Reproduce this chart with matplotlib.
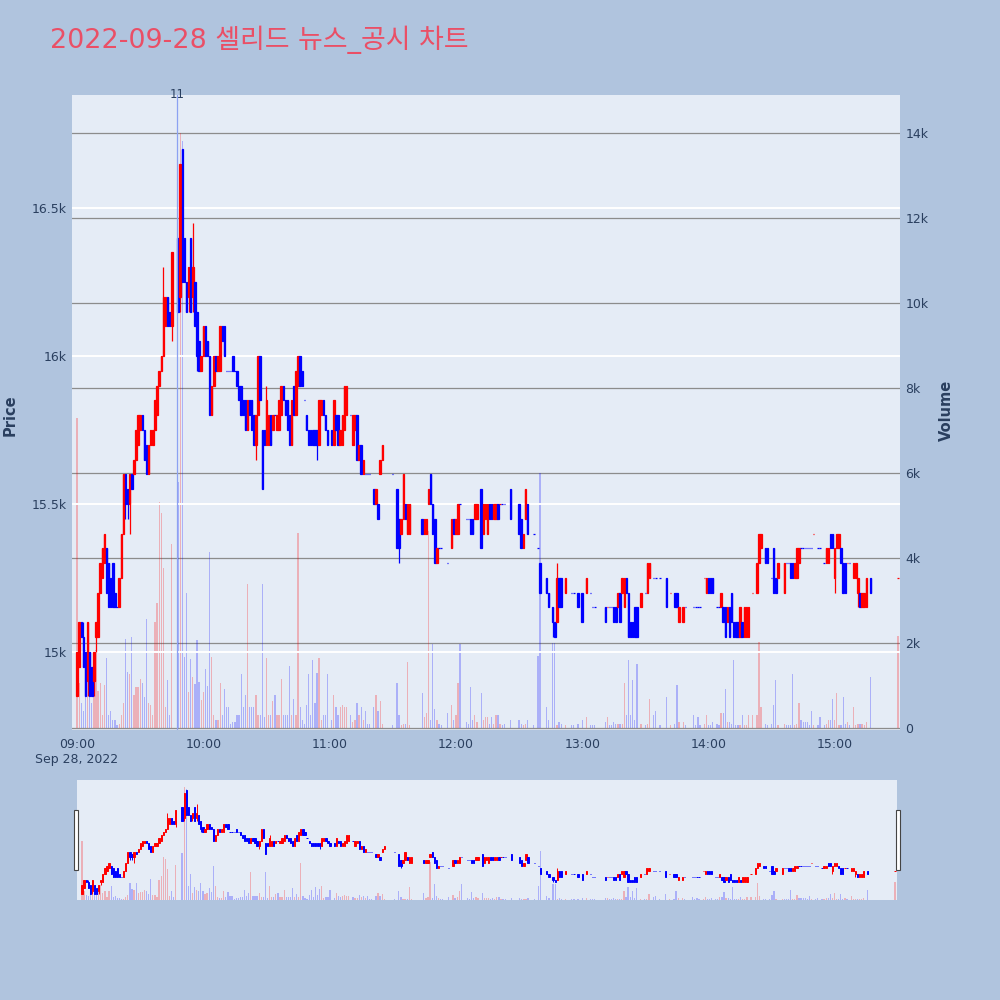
import numpy as np
import matplotlib
matplotlib.use("Agg")
import matplotlib.pyplot as plt
from matplotlib.patches import Rectangle

plt.rcParams["font.family"] = ["DejaVu Sans", "Noto Sans CJK KR"]

title = "2022-09-28 셀리드 뉴스_공시 차트"
marker_minute = 47.5
marker_label = "11"
tick_minutes = [0, 60, 120, 180, 240, 300, 360]
tick_labels = ["09:00\nSep 28, 2022", "10:00", "11:00", "12:00", "13:00", "14:00", "15:00"]
price_ticks = [15000, 15500, 16000, 16500]
price_labels = ["15k", "15.5k", "16k", "16.5k"]
vol_ticks = [0, 2000, 4000, 6000, 8000, 10000, 12000, 14000]
vol_labels = ["0", "2k", "4k", "6k", "8k", "10k", "12k", "14k"]

# minutes after 09:00 (minutes without trades are left out)
minutes = [
    0, 1, 2, 3, 4, 5, 6, 7, 8, 9,
    10, 11, 12, 13, 14, 15, 16, 17, 18, 19,
    20, 21, 22, 23, 24, 25, 26, 27, 28, 29,
    30, 31, 32, 33, 34, 35, 36, 37, 38, 39,
    40, 41, 42, 43, 44, 45, 48, 49, 50, 51,
    52, 53, 54, 55, 56, 57, 58, 59, 60, 61,
    62, 63, 64, 65, 66, 67, 68, 69, 70, 71,
    72, 73, 74, 75, 76, 77, 78, 79, 80, 81,
    82, 83, 84, 85, 86, 87, 88, 89, 90, 91,
    92, 93, 94, 95, 96, 97, 98, 99, 100, 101,
    102, 103, 104, 105, 106, 107, 108, 109, 110, 111,
    112, 113, 114, 115, 116, 117, 118, 119, 121, 122,
    123, 124, 125, 126, 127, 128, 130, 131, 132, 133,
    134, 135, 136, 137, 138, 139, 141, 142, 143, 144,
    145, 150, 152, 153, 154, 155, 156, 157, 158, 164,
    165, 166, 167, 168, 169, 170, 171, 172, 173, 176,
    178, 179, 180, 181, 182, 185, 186, 187, 188, 189,
    190, 192, 193, 194, 195, 196, 197, 198, 199, 200,
    201, 202, 203, 206, 210, 211, 212, 213, 214, 217,
    219, 220, 223, 224, 226, 227, 228, 229, 230, 232,
    235, 236, 238, 240, 242, 244, 245, 246, 251, 252,
    253, 254, 255, 256, 257, 258, 259, 260, 261, 262,
    263, 264, 265, 266, 268, 270, 271, 272, 274, 275,
    277, 280, 282, 284, 285, 286, 288, 289, 293, 294,
    295, 296, 298, 299, 300, 301, 302, 304, 305, 306,
    307, 308, 309, 310, 311, 312, 313, 314, 315, 316,
    317, 318, 319, 321, 323, 324, 325, 327, 328, 330,
    331, 332, 333, 336, 337, 338, 339, 340, 341, 342,
    343, 344, 345, 346, 347, 348, 349, 350, 352, 353,
    355, 356, 357, 358, 359, 360, 361, 362, 363, 364,
    365, 366, 367, 369, 370, 371, 372, 373, 374, 375,
    377, 390,
]
opens = [
    14850, 14950, 15100, 15050, 15000, 14900, 15000, 14950, 14900, 15050,
    15050, 15200, 15250, 15300, 15350, 15300, 15250, 15300, 15200, 15150,
    15150, 15250, 15400, 15600, 15550, 15500, 15600, 15600, 15650, 15700,
    15750, 15800, 15750, 15700, 15600, 15700, 15700, 15750, 15800, 15900,
    15950, 16000, 16100, 16200, 16150, 16100, 16400, 16200, 16700, 16400,
    16250, 16200, 16400, 16200, 16250, 16150, 16050, 15950, 16000, 16100,
    16050, 16000, 15800, 15900, 16000, 15950, 15950, 16100, 16100, 15950,
    15950, 15950, 16000, 15950, 15950, 15900, 15900, 15850, 15850, 15750,
    15850, 15850, 15800, 15700, 15800, 16000, 15750, 15750, 15700, 15700,
    15800, 15750, 15800, 15750, 15750, 15800, 15900, 15850, 15850, 15800,
    15700, 15900, 15800, 15900, 16000, 15950, 15850, 15800, 15750, 15750,
    15750, 15750, 15750, 15700, 15800, 15850, 15800, 15750, 15750, 15700,
    15800, 15800, 15700, 15700, 15750, 15800, 15800, 15700, 15750, 15800,
    15650, 15700, 15600, 15600, 15600, 15600, 15550, 15500, 15500, 15600,
    15650, 15600, 15550, 15450, 15400, 15450, 15500, 15400, 15400, 15450,
    15400, 15400, 15500, 15600, 15500, 15450, 15300, 15350, 15350, 15300,
    15350, 15450, 15400, 15400, 15500, 15450, 15450, 15450, 15450, 15450,
    15450, 15550, 15400, 15450, 15400, 15500, 15500, 15450, 15450, 15500,
    15500, 15500, 15500, 15550, 15500, 15450, 15350, 15450, 15500, 15400,
    15350, 15300, 15250, 15200, 15150, 15100, 15100, 15250, 15250, 15200,
    15200, 15200, 15200, 15200, 15200, 15200, 15150, 15150, 15150, 15150,
    15150, 15150, 15150, 15150, 15150, 15200, 15200, 15150, 15250, 15200,
    15100, 15100, 15150, 15150, 15150, 15200, 15200, 15250, 15250, 15250,
    15250, 15250, 15200, 15200, 15200, 15100, 15100, 15150, 15150, 15150,
    15150, 15150, 15250, 15200, 15250, 15250, 15250, 15150, 15150, 15150,
    15150, 15150, 15100, 15150, 15200, 15100, 15100, 15100, 15050, 15100,
    15050, 15050, 15050, 15200, 15200, 15300, 15350, 15350, 15350, 15250,
    15350, 15250, 15250, 15200, 15300, 15300, 15300, 15300, 15250, 15250,
    15300, 15350, 15350, 15350, 15350, 15350, 15350, 15400, 15350, 15350,
    15300, 15300, 15300, 15400, 15400, 15250, 15350, 15350, 15350, 15300,
    15300, 15300, 15300, 15250, 15250, 15200, 15200, 15150, 15150, 15150,
    15250, 15250,
]
highs = [
    15000, 15100, 15100, 15100, 15000, 15100, 15000, 14950, 15000, 15100,
    15200, 15300, 15350, 15400, 15350, 15300, 15250, 15300, 15200, 15150,
    15250, 15400, 15600, 15600, 15550, 15600, 15600, 15650, 15750, 15800,
    15800, 15800, 15750, 15700, 15700, 15750, 15750, 15850, 15900, 15950,
    16000, 16300, 16200, 16200, 16150, 16350, 16400, 16650, 16700, 16400,
    16250, 16300, 16400, 16450, 16250, 16150, 16050, 16000, 16100, 16100,
    16050, 16000, 15900, 16000, 16000, 16000, 16100, 16100, 16100, 15950,
    15950, 15950, 16000, 15950, 15950, 15900, 15900, 15850, 15850, 15850,
    15850, 15850, 15800, 15800, 16000, 16000, 15750, 15750, 15900, 15800,
    15800, 15800, 15800, 15800, 15850, 15900, 15900, 15850, 15850, 15800,
    15850, 15900, 15950, 16000, 16000, 15950, 15850, 15800, 15750, 15750,
    15750, 15750, 15750, 15850, 15850, 15850, 15800, 15750, 15750, 15850,
    15800, 15800, 15750, 15800, 15900, 15900, 15800, 15800, 15800, 15800,
    15700, 15700, 15650, 15600, 15600, 15600, 15550, 15550, 15500, 15650,
    15700, 15600, 15550, 15450, 15450, 15600, 15500, 15500, 15500, 15450,
    15450, 15450, 15550, 15600, 15500, 15450, 15350, 15350, 15350, 15300,
    15450, 15450, 15450, 15500, 15500, 15450, 15450, 15450, 15450, 15500,
    15500, 15550, 15500, 15500, 15500, 15500, 15500, 15500, 15500, 15500,
    15500, 15500, 15500, 15550, 15500, 15450, 15400, 15550, 15500, 15400,
    15350, 15300, 15250, 15200, 15150, 15100, 15300, 15250, 15250, 15250,
    15200, 15200, 15200, 15200, 15250, 15200, 15150, 15150, 15150, 15150,
    15150, 15150, 15150, 15150, 15200, 15200, 15250, 15250, 15250, 15200,
    15100, 15100, 15150, 15150, 15200, 15200, 15300, 15300, 15250, 15250,
    15250, 15250, 15200, 15200, 15200, 15150, 15150, 15150, 15150, 15150,
    15150, 15150, 15250, 15250, 15250, 15250, 15250, 15150, 15150, 15200,
    15150, 15150, 15150, 15150, 15200, 15100, 15100, 15100, 15150, 15100,
    15150, 15150, 15150, 15200, 15300, 15400, 15400, 15350, 15350, 15250,
    15350, 15250, 15300, 15300, 15300, 15300, 15300, 15300, 15300, 15350,
    15350, 15350, 15350, 15350, 15350, 15350, 15350, 15400, 15350, 15350,
    15300, 15350, 15350, 15400, 15400, 15350, 15400, 15400, 15350, 15300,
    15300, 15300, 15300, 15300, 15300, 15250, 15200, 15200, 15200, 15250,
    15250, 15250,
]
lows = [
    14850, 14950, 15050, 14950, 14850, 14850, 14850, 14850, 14850, 15000,
    15050, 15200, 15250, 15300, 15200, 15150, 15150, 15150, 15150, 15150,
    15150, 15250, 15400, 15450, 15450, 15400, 15550, 15600, 15650, 15700,
    15750, 15750, 15650, 15600, 15600, 15700, 15700, 15750, 15800, 15900,
    15950, 16000, 16100, 16100, 16100, 16050, 16150, 16150, 16250, 16250,
    16150, 16150, 16150, 16150, 16100, 15950, 15950, 15950, 16000, 16000,
    16000, 15800, 15800, 15900, 15950, 15950, 15950, 16050, 16000, 15950,
    15950, 15950, 15950, 15950, 15900, 15850, 15800, 15800, 15750, 15750,
    15800, 15750, 15700, 15650, 15800, 15850, 15550, 15700, 15700, 15700,
    15700, 15750, 15800, 15750, 15750, 15800, 15850, 15800, 15750, 15700,
    15700, 15800, 15800, 15900, 15900, 15900, 15850, 15750, 15700, 15700,
    15700, 15700, 15650, 15700, 15800, 15800, 15750, 15700, 15700, 15700,
    15750, 15700, 15700, 15700, 15750, 15800, 15800, 15700, 15750, 15650,
    15650, 15600, 15600, 15600, 15600, 15600, 15500, 15500, 15450, 15600,
    15650, 15600, 15350, 15300, 15400, 15450, 15450, 15400, 15400, 15400,
    15400, 15400, 15500, 15500, 15400, 15300, 15300, 15350, 15350, 15300,
    15350, 15400, 15400, 15400, 15500, 15450, 15450, 15400, 15400, 15450,
    15450, 15350, 15400, 15450, 15400, 15450, 15450, 15450, 15450, 15450,
    15500, 15500, 15500, 15450, 15400, 15350, 15350, 15450, 15400, 15400,
    15350, 15200, 15200, 15150, 15050, 15050, 15100, 15150, 15150, 15200,
    15200, 15200, 15150, 15100, 15200, 15200, 15150, 15150, 15100, 15150,
    15150, 15150, 15100, 15100, 15150, 15100, 15200, 15150, 15200, 15050,
    15050, 15050, 15050, 15050, 15150, 15200, 15200, 15250, 15250, 15250,
    15250, 15150, 15200, 15150, 15150, 15100, 15100, 15150, 15150, 15150,
    15150, 15150, 15250, 15200, 15200, 15200, 15200, 15150, 15150, 15150,
    15100, 15050, 15100, 15050, 15100, 15050, 15050, 15050, 15050, 15050,
    15050, 15050, 15050, 15200, 15200, 15300, 15350, 15300, 15300, 15250,
    15200, 15200, 15250, 15200, 15300, 15300, 15250, 15250, 15250, 15250,
    15300, 15350, 15350, 15350, 15350, 15350, 15350, 15400, 15350, 15350,
    15300, 15300, 15300, 15350, 15350, 15200, 15350, 15350, 15300, 15200,
    15200, 15300, 15300, 15250, 15250, 15150, 15150, 15150, 15150, 15150,
    15200, 15250,
]
closes = [
    15000, 15100, 15050, 14950, 14850, 15100, 14850, 14850, 15000, 15100,
    15200, 15300, 15350, 15400, 15200, 15150, 15150, 15150, 15150, 15150,
    15250, 15400, 15600, 15500, 15500, 15600, 15550, 15650, 15750, 15800,
    15800, 15750, 15650, 15600, 15700, 15750, 15750, 15850, 15900, 15950,
    16000, 16200, 16200, 16100, 16100, 16350, 16150, 16650, 16250, 16250,
    16150, 16300, 16150, 16300, 16100, 16000, 15950, 16000, 16100, 16000,
    16000, 15800, 15900, 16000, 15950, 16000, 16100, 16050, 16000, 15950,
    15950, 15950, 15950, 15950, 15900, 15850, 15800, 15800, 15750, 15850,
    15800, 15750, 15700, 15800, 16000, 15850, 15550, 15700, 15850, 15800,
    15700, 15800, 15800, 15800, 15850, 15900, 15850, 15800, 15750, 15700,
    15850, 15800, 15950, 16000, 15900, 15900, 15850, 15750, 15700, 15700,
    15700, 15700, 15700, 15850, 15850, 15800, 15750, 15700, 15700, 15850,
    15750, 15700, 15750, 15800, 15900, 15900, 15800, 15800, 15800, 15650,
    15700, 15600, 15650, 15600, 15600, 15600, 15500, 15550, 15450, 15650,
    15700, 15600, 15350, 15350, 15450, 15600, 15450, 15500, 15500, 15400,
    15450, 15450, 15550, 15500, 15400, 15300, 15350, 15350, 15350, 15300,
    15450, 15400, 15450, 15500, 15500, 15450, 15450, 15400, 15400, 15500,
    15500, 15350, 15500, 15500, 15500, 15450, 15450, 15500, 15500, 15450,
    15500, 15500, 15500, 15450, 15400, 15350, 15400, 15550, 15400, 15400,
    15350, 15200, 15200, 15150, 15100, 15050, 15250, 15150, 15150, 15250,
    15200, 15200, 15150, 15100, 15250, 15200, 15150, 15150, 15100, 15150,
    15150, 15150, 15100, 15100, 15200, 15100, 15250, 15250, 15200, 15050,
    15050, 15050, 15050, 15050, 15200, 15200, 15300, 15300, 15250, 15250,
    15250, 15150, 15200, 15150, 15150, 15150, 15150, 15150, 15150, 15150,
    15150, 15150, 15250, 15250, 15200, 15200, 15200, 15150, 15150, 15200,
    15100, 15050, 15150, 15050, 15100, 15050, 15050, 15050, 15150, 15050,
    15150, 15150, 15150, 15200, 15300, 15400, 15400, 15300, 15300, 15250,
    15200, 15200, 15300, 15300, 15300, 15300, 15250, 15250, 15300, 15350,
    15350, 15350, 15350, 15350, 15350, 15350, 15350, 15400, 15350, 15350,
    15300, 15350, 15350, 15350, 15350, 15350, 15400, 15400, 15300, 15200,
    15200, 15300, 15300, 15300, 15300, 15250, 15150, 15200, 15200, 15250,
    15200, 15250,
]
volumes = [
    7300, 1070, 590, 400, 1840, 1360, 1070, 590, 1550, 1840,
    870, 1070, 300, 1020, 1650, 300, 400, 200, 200, 60,
    100, 300, 590, 2100, 1310, 1260, 2130, 780, 970, 970,
    1160, 1070, 730, 2560, 590, 530, 300, 2490, 2950, 5320,
    5050, 3770, 500, 1120, 300, 4320, 5780, 14000, 13800, 1670,
    3180, 850, 1630, 1210, 1030, 2080, 1080, 670, 850, 1400,
    990, 4140, 1670, 300, 200, 200, 1070, 300, 920, 500,
    500, 100, 150, 150, 300, 300, 1260, 500, 780, 3380,
    500, 500, 500, 780, 300, 300, 3380, 250, 1650, 300,
    300, 640, 780, 300, 300, 1160, 300, 300, 300, 1450,
    300, 680, 300, 4580, 500, 200, 100, 540, 1260, 300,
    1600, 590, 1300, 1650, 200, 300, 300, 1260, 200, 780,
    500, 300, 500, 540, 500, 500, 300, 150, 200, 590,
    300, 500, 200, 400, 100, 100, 500, 780, 400, 640,
    100, 60, 1070, 300, 60, 100, 100, 1550, 60, 830,
    250, 350, 4630, 200, 1980, 440, 200, 100, 60, 350,
    540, 200, 300, 1070, 1980, 150, 100, 970, 200, 300,
    150, 830, 200, 250, 250, 100, 250, 100, 300, 300,
    100, 60, 100, 200, 200, 100, 60, 100, 200, 60,
    1700, 6000, 500, 200, 2000, 2000, 60, 150, 100, 60,
    60, 60, 100, 200, 250, 60, 60, 60, 150, 250,
    60, 60, 150, 100, 100, 100, 100, 1070, 300, 1600,
    300, 1120, 200, 1500, 100, 60, 100, 680, 300, 400,
    60, 730, 60, 100, 1020, 150, 150, 60, 300, 60,
    250, 60, 100, 300, 60, 60, 150, 100, 60, 350,
    350, 920, 150, 150, 100, 1600, 60, 60, 60, 300,
    60, 60, 300, 300, 300, 2030, 500, 100, 60, 100,
    540, 1120, 60, 100, 60, 60, 60, 1260, 60, 100,
    590, 200, 150, 150, 150, 60, 400, 60, 60, 250,
    60, 100, 200, 200, 680, 200, 830, 60, 60, 730,
    100, 150, 60, 500, 60, 100, 100, 100, 60, 150,
    1210, 2170,
]

x = np.array(minutes, dtype=float)
o = np.array(opens, dtype=float)
h = np.array(highs, dtype=float)
l = np.array(lows, dtype=float)
c = np.array(closes, dtype=float)
v = np.array(volumes, dtype=float)

# plotly style direction: flat candles compare with the previous close
prev_c = np.r_[o[0], c[:-1]]
rising = np.where(c == o, c > prev_c, c > o)
colors = np.where(rising, "#FF0000", "#0000FF")

BG = "#B0C4DE"
PLOT_BG = "#E5ECF6"
FONT_C = "#2A3F5F"
X_RANGE = (-2.4, 391.0)
P_RANGE = (14736, 16882)
V_RANGE = (-47, 14894)


def draw_candles(axis, lw, body_w):
    axis.vlines(x, l, h, colors=colors, linewidth=lw, zorder=3)
    axis.bar(x, np.abs(c - o), bottom=np.minimum(o, c), width=body_w,
             color=colors, edgecolor=colors, linewidth=lw, zorder=4)


fig = plt.figure(figsize=(10, 10), dpi=100, facecolor=BG)

# main price / volume area
ax = fig.add_axes([0.072, 0.27, 0.828, 0.635])
ax_vol = ax.twinx()
ax.set_zorder(2)
ax_vol.set_zorder(1)
ax.patch.set_visible(False)
ax_vol.patch.set_visible(True)
ax_vol.set_facecolor(PLOT_BG)

ax_vol.bar(x, v, width=0.6, color=colors, alpha=0.25, linewidth=0)
ax_vol.set_ylim(*V_RANGE)
ax_vol.set_yticks(vol_ticks)
ax_vol.set_yticklabels(vol_labels)
ax_vol.grid(axis="y", color="#8C8C8C", linewidth=0.9)
ax_vol.set_axisbelow(True)

draw_candles(ax, 0.9, 0.7)
ax.set_xlim(*X_RANGE)
ax.set_ylim(*P_RANGE)
ax.set_yticks(price_ticks)
ax.set_yticklabels(price_labels)
for p in price_ticks:
    ax.axhline(p, color="white", linewidth=1.4, zorder=0)

ax.set_xticks(tick_minutes)
ax.set_xticklabels(tick_labels)

ax.axvline(marker_minute, color="#8CA2F2", linewidth=0.9, zorder=5)
ax.text(marker_minute, 1.0, marker_label, transform=ax.get_xaxis_transform(),
        ha="center", va="center", fontsize=8.5, color=FONT_C)

for a in (ax, ax_vol):
    for s in a.spines.values():
        s.set_visible(False)
    a.tick_params(length=0, labelsize=9, labelcolor=FONT_C)
ax.tick_params(axis="y", pad=4)
ax.tick_params(axis="x", pad=6)
ax_vol.tick_params(axis="y", pad=4)

fig.text(0.010, 0.585, "Price", rotation=90, ha="center", va="center",
         fontsize=10.5, fontweight="bold", color=FONT_C)
fig.text(0.946, 0.590, "Volume", rotation=90, ha="center", va="center",
         fontsize=10.5, fontweight="bold", color=FONT_C)
fig.text(0.050, 0.960, title, ha="left", va="center", fontsize=19.4, color="#EA4F66")

# range slider
sl = fig.add_axes([0.077, 0.10, 0.820, 0.12])
sl_vol = sl.twinx()
sl.set_zorder(2)
sl_vol.set_zorder(1)
sl.patch.set_visible(False)
sl_vol.patch.set_visible(True)
sl_vol.set_facecolor(PLOT_BG)
sl_vol.bar(x, v, width=0.6, color=colors, alpha=0.25, linewidth=0)
sl_vol.set_ylim(*V_RANGE)
draw_candles(sl, 0.7, 0.6)
sl.set_xlim(*X_RANGE)
sl.set_ylim(*P_RANGE)
for a in (sl, sl_vol):
    a.set_xticks([])
    a.set_yticks([])
    for s in a.spines.values():
        s.set_visible(False)

for hx in (0.0735, 0.8955):
    fig.patches.append(Rectangle((hx, 0.13), 0.004, 0.06, transform=fig.transFigure,
                                 facecolor="white", edgecolor="#444444", linewidth=0.8))

fig.savefig("out.png", dpi=100, facecolor=BG)
